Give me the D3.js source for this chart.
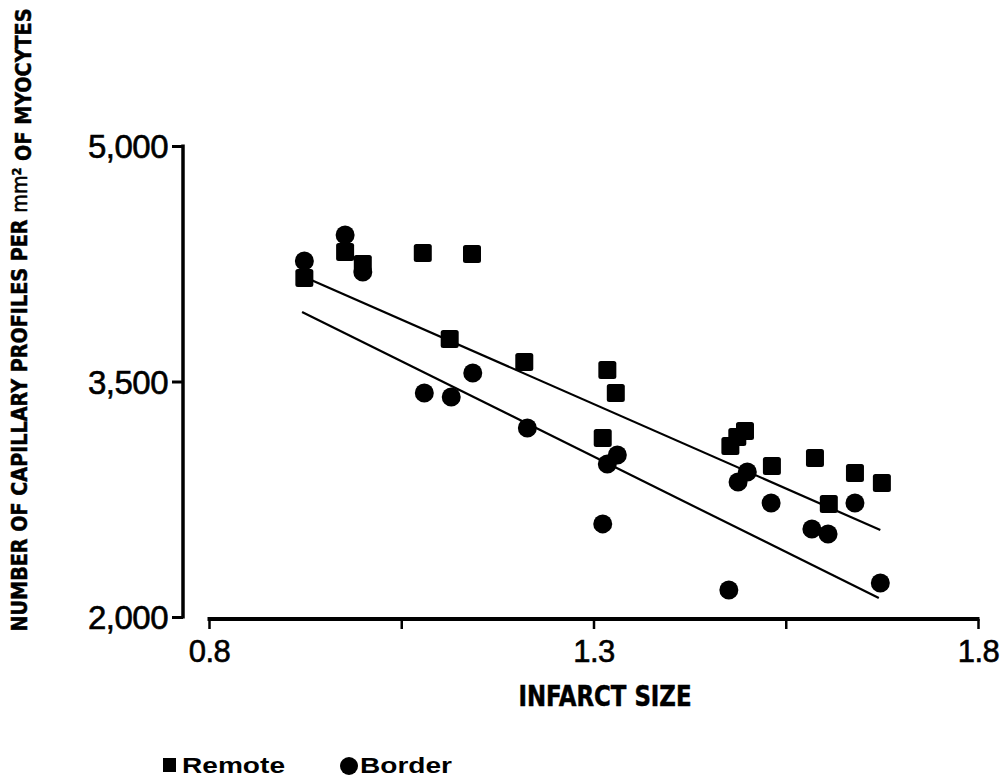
<!DOCTYPE html>
<html>
<head>
<meta charset="utf-8">
<script src="https://cdn.jsdelivr.net/npm/d3@7"></script>
<style>
  body { margin: 0; background: #fff; }
  svg { display: block; }
  .tick-label { font-family: "Liberation Sans", Arial, sans-serif; fill: #000; stroke: #000; stroke-width: 0.6px; }
  .title { font-family: "Liberation Sans Narrow", "DejaVu Sans Condensed", "Liberation Sans", sans-serif; font-weight: bold; fill: #000; stroke: #000; stroke-width: 0.5px; }
  .legend { font-family: "Liberation Sans", Arial, sans-serif; font-weight: bold; fill: #000; }
</style>
</head>
<body>
<div id="chart"></div>
<script>
// Data
var remoteX = [0.924, 0.977, 1.000, 1.078, 1.142, 1.113, 1.210, 1.318, 1.329, 1.312,
               1.478, 1.487, 1.497, 1.532, 1.588, 1.640, 1.675, 1.606];
var remoteY = [4159, 4325, 4248, 4319, 4312, 3771, 3624, 3573, 3427, 3140,
               3089, 3147, 3185, 2962, 3013, 2917, 2854, 2720];

var borderX = [0.924, 0.977, 1.000, 1.143, 1.080, 1.115, 1.214, 1.318, 1.331, 1.312,
               1.488, 1.500, 1.531, 1.584, 1.605, 1.640, 1.476, 1.673];
var borderY = [4268, 4433, 4197, 3554, 3427, 3401, 3204, 2975, 3032, 2593,
               2860, 2924, 2726, 2561, 2529, 2726, 2172, 2217];

// fitted lines: [x start, y start, x end, y end]
var remoteFit = [0.924, 4166, 1.673, 2554];
var borderFit = [0.921, 3943, 1.671, 2121];

var xTicks = [0.8, 1.05, 1.3, 1.55, 1.8];
var xTickLabels = ["0.8", "", "1.3", "", "1.8"];
var yTicks = [2000, 3500, 5000];
var yTickLabels = ["2,000", "3,500", "5,000"];

var w = 1005;
var h = 779;

var x = d3.scaleLinear().domain([0.8, 1.8]).range([209, 978]);
var y = d3.scaleLinear().domain([2000, 5000]).range([617, 146]);

var svg = d3.select("#chart")
    .append("svg")
    .attr("width", w)
    .attr("height", h);

// Y axis
var yAxis = d3.axisLeft(y)
    .tickValues(yTicks)
    .tickSize(11)
    .tickPadding(4)
    .tickFormat(function (d, i) { return yTickLabels[i]; });

var gy = svg.append("g")
    .attr("transform", "translate(183,0)")
    .call(yAxis);
gy.select(".domain").remove();
gy.append("line")
    .attr("x1", 0).attr("x2", 0)
    .attr("y1", y(5000) - 1.5).attr("y2", y(2000) + 1.5)
    .attr("stroke", "#000").attr("stroke-width", 3.5);
gy.selectAll(".tick line").attr("stroke", "#000").attr("stroke-width", 3);
gy.selectAll(".tick text")
    .attr("class", "tick-label")
    .style("font-size", "33px")
    .style("letter-spacing", "-0.5px")
    .attr("dy", "0.35em");

// X axis
var xAxis = d3.axisBottom(x)
    .tickValues(xTicks)
    .tickSize(10)
    .tickPadding(11)
    .tickFormat(function (d, i) { return xTickLabels[i]; });

var gx = svg.append("g")
    .attr("transform", "translate(0,619)")
    .call(xAxis);
gx.select(".domain").remove();
gx.append("line")
    .attr("x1", x(0.8) - 1.5).attr("x2", x(1.8) + 1.5)
    .attr("y1", 0).attr("y2", 0)
    .attr("stroke", "#000").attr("stroke-width", 4);
gx.selectAll(".tick line").attr("stroke", "#000").attr("stroke-width", 2.5);
gx.selectAll(".tick text")
    .attr("class", "tick-label")
    .style("font-size", "31px")
    .style("letter-spacing", "-0.5px");

// Axis titles
svg.append("text")
    .attr("class", "title")
    .attr("x", 605)
    .attr("y", 706)
    .attr("text-anchor", "middle")
    .attr("textLength", 173)
    .attr("lengthAdjust", "spacingAndGlyphs")
    .style("font-size", "29px")
    .text("INFARCT  SIZE");

var yTitle = svg.append("text")
    .attr("class", "title")
    .attr("transform", "translate(27,320) rotate(-90)")
    .attr("text-anchor", "middle")
    .attr("textLength", 623)
    .attr("lengthAdjust", "spacingAndGlyphs")
    .style("font-size", "22px");
yTitle.append("tspan").text("NUMBER OF CAPILLARY PROFILES PER ");
yTitle.append("tspan").style("font-weight", "normal").text("mm");
yTitle.append("tspan").attr("dy", "-0.45em").style("font-size", "13px").text("2");
yTitle.append("tspan").attr("dy", "0.45em").text(" OF MYOCYTES");

// Fitted lines
[remoteFit, borderFit].forEach(function (f) {
    svg.append("line")
        .attr("x1", x(f[0])).attr("y1", y(f[1]))
        .attr("x2", x(f[2])).attr("y2", y(f[3]))
        .attr("stroke", "#000")
        .attr("stroke-width", 2.2);
});

// Remote points (squares)
var sq = 18;
svg.selectAll("rect.remote")
    .data(d3.range(remoteX.length))
    .enter()
    .append("rect")
    .attr("class", "remote")
    .attr("x", function (i) { return x(remoteX[i]) - sq / 2; })
    .attr("y", function (i) { return y(remoteY[i]) - sq / 2; })
    .attr("width", sq)
    .attr("height", sq)
    .attr("rx", 2.5)
    .style("fill", "#000");

// Border points (circles)
svg.selectAll("circle.border")
    .data(d3.range(borderX.length))
    .enter()
    .append("circle")
    .attr("class", "border")
    .attr("cx", function (i) { return x(borderX[i]); })
    .attr("cy", function (i) { return y(borderY[i]); })
    .attr("r", 9.5)
    .style("fill", "#000");

// Legend
var legend = svg.append("g");
legend.append("rect")
    .attr("x", 163).attr("y", 758)
    .attr("width", 13).attr("height", 14)
    .style("fill", "#000");
legend.append("text")
    .attr("class", "legend")
    .attr("x", 182).attr("y", 773)
    .attr("textLength", 103)
    .attr("lengthAdjust", "spacingAndGlyphs")
    .style("font-size", "22px")
    .text("Remote");
legend.append("circle")
    .attr("cx", 349).attr("cy", 766)
    .attr("r", 9)
    .style("fill", "#000");
legend.append("text")
    .attr("class", "legend")
    .attr("x", 360).attr("y", 773)
    .attr("textLength", 92)
    .attr("lengthAdjust", "spacingAndGlyphs")
    .style("font-size", "22px")
    .text("Border");
</script>
</body>
</html>
